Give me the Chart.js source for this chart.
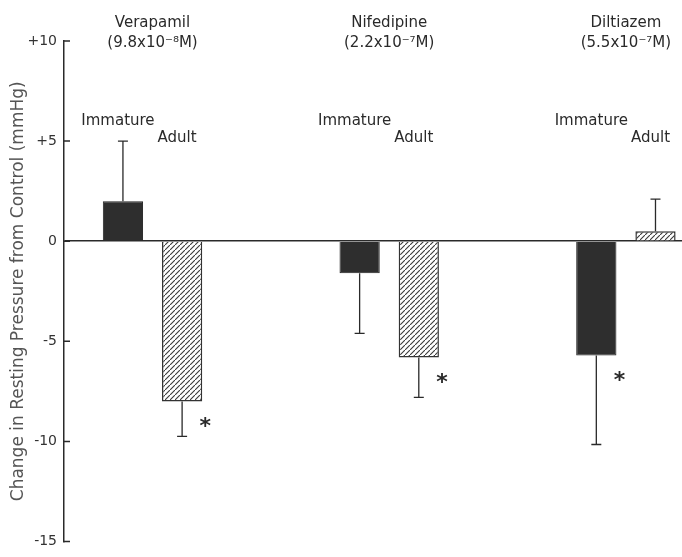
<!DOCTYPE html>
<html>
<head>
<meta charset="utf-8">
<script src="https://cdn.jsdelivr.net/npm/chart.js@4"></script>
<style>
  html, body { margin: 0; padding: 0; background: #fff; }
  #wrap { width: 682px; height: 557px; position: relative; }
</style>
</head>
<body>
<div id="wrap"><canvas id="c"></canvas></div>
<script>
// Drugs and their concentrations
const drugs = ['Verapamil', 'Nifedipine', 'Diltiazem'];
const doses = ['(9.8x10\u207B\u2078M)', '(2.2x10\u207B\u2077M)', '(5.5x10\u207B\u2077M)'];
const seriesNames = ['Immature', 'Adult'];

// Mean change in resting pressure (mmHg) and its error bar length
const immature   = [2.0, -1.6, -5.7];
const immatureSD = [3.0, 3.0, 4.45];
const adult      = [-8.0, -5.8, 0.5];
const adultSD    = [1.75, 2.0, 1.6];

// Significance markers
const immatureSig = [false, false, true];
const adultSig    = [true, true, false];

// Y axis ticks
const tickValues = [10, 5, 0, -5, -10, -15];
const tickLabels = ['+10', '+5', '0', '-5', '-10', '-15'];

const FONT = '"DejaVu Sans", sans-serif';
const INK = '#2a2a2a';

function hatchPattern() {
  const s = 5;
  const c = document.createElement('canvas');
  c.width = s; c.height = s;
  const g = c.getContext('2d');
  g.fillStyle = '#ffffff';
  g.fillRect(0, 0, s, s);
  g.strokeStyle = '#3a3a3a';
  g.lineWidth = 1.1;
  g.beginPath();
  g.moveTo(-1, s + 1); g.lineTo(s + 1, -1);
  g.moveTo(-2, 1); g.lineTo(1, -2);
  g.moveTo(s - 1, s + 2); g.lineTo(s + 2, s - 1);
  g.stroke();
  return g.createPattern(c, 'repeat');
}

const groupIndex = drugs.map((_, i) => i + 1);

// Error bars, asterisks, inward ticks and text annotations
const annotate = {
  id: 'annotate',
  afterDatasetsDraw(chart) {
    const ctx = chart.ctx;
    const ys = chart.scales.y;
    const xs = chart.scales.x;
    const sds = [immatureSD, adultSD];
    const sigs = [immatureSig, adultSig];
    ctx.save();
    chart.data.datasets.forEach((ds, di) => {
      const meta = chart.getDatasetMeta(di);
      meta.data.forEach((bar, i) => {
        const v = ds.data[i].y;
        const end = v + Math.sign(v) * sds[di][i];
        const y0 = ys.getPixelForValue(v);
        const y1 = ys.getPixelForValue(end);
        ctx.strokeStyle = INK;
        ctx.lineWidth = 1.3;
        ctx.beginPath();
        ctx.moveTo(bar.x, y0);
        ctx.lineTo(bar.x, y1);
        ctx.moveTo(bar.x - 5, y1);
        ctx.lineTo(bar.x + 5, y1);
        ctx.stroke();
        if (sigs[di][i]) {
          ctx.fillStyle = INK;
          ctx.font = 'bold 22px ' + FONT;
          ctx.textAlign = 'center';
          ctx.textBaseline = 'middle';
          ctx.fillText('*', bar.x + bar.width / 2 + 3, y0 + 26);
        }
        // series label above each bar
        ctx.fillStyle = INK;
        ctx.font = '15px ' + FONT;
        ctx.textAlign = 'center';
        ctx.textBaseline = 'middle';
        ctx.fillText(seriesNames[di], bar.x - 5, di === 0 ? 121 : 138);
      });
    });
    // drug names and concentrations
    drugs.forEach((d, i) => {
      const x = xs.getPixelForValue(groupIndex[i]);
      ctx.fillStyle = INK;
      ctx.font = '15px ' + FONT;
      ctx.textAlign = 'center';
      ctx.textBaseline = 'middle';
      ctx.fillText(d, x, 23);
      ctx.fillText(doses[i], x, 43);
    });
    // inward tick marks on the y axis
    const left = chart.chartArea.left;
    ctx.strokeStyle = INK;
    ctx.lineWidth = 1.5;
    ctx.beginPath();
    tickValues.forEach(v => {
      const y = ys.getPixelForValue(v);
      ctx.moveTo(left, y);
      ctx.lineTo(left + 6, y);
    });
    ctx.stroke();
    ctx.restore();
  }
};

new Chart(document.getElementById('c'), {
  type: 'bar',
  data: {
    datasets: [
      {
        label: seriesNames[0],
        data: groupIndex.map((x, i) => ({ x, y: immature[i] })),
        backgroundColor: '#2e2e2e',
        borderColor: '#222',
        borderWidth: 1,
        borderSkipped: 'start'
      },
      {
        label: seriesNames[1],
        data: groupIndex.map((x, i) => ({ x, y: adult[i] })),
        backgroundColor: hatchPattern(),
        borderColor: '#333',
        borderWidth: 1.5,
        borderSkipped: 'start'
      }
    ]
  },
  options: {
    responsive: true,
    maintainAspectRatio: false,
    animation: false,
    categoryPercentage: 0.5,
    barPercentage: 0.68,
    layout: { padding: { top: 41, bottom: 7, left: 0, right: 0 } },
    plugins: {
      legend: { display: false },
      tooltip: { enabled: false }
    },
    scales: {
      x: {
        type: 'linear',
        min: 0.626,
        max: 3.237,
        display: false,
        offset: false,
        afterBuildTicks(scale) {
          scale.ticks = groupIndex.map(value => ({ value }));
        }
      },
      y: {
        min: -15,
        max: 10,
        afterBuildTicks(scale) {
          scale.ticks = tickValues.map(value => ({ value }));
        },
        afterFit(scale) { scale.width = 64; },
        border: { display: true, color: INK, width: 1.5 },
        grid: {
          drawTicks: false,
          lineWidth: 1.5,
          color: c => (c.tick && c.tick.value === 0 ? INK : 'rgba(0,0,0,0)')
        },
        ticks: {
          padding: 7,
          color: '#333',
          font: { family: FONT, size: 14 },
          callback: (v) => tickLabels[tickValues.indexOf(v)]
        },
        title: {
          display: true,
          text: 'Change in Resting Pressure from Control (mmHg)',
          color: '#555',
          font: { family: FONT, size: 17 },
          padding: { top: 8, bottom: 0 }
        }
      }
    }
  },
  plugins: [annotate]
});
</script>
</body>
</html>
